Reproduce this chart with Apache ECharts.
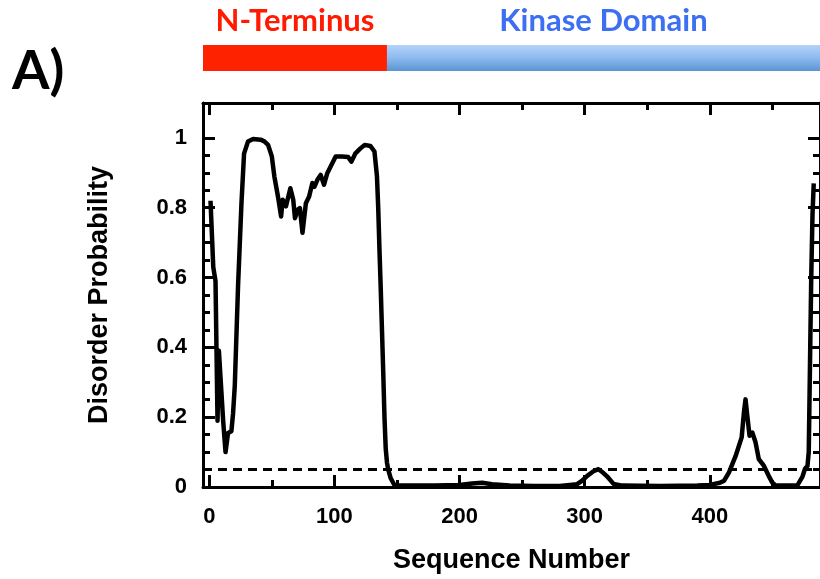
<!DOCTYPE html>
<html>
<head>
<meta charset="utf-8">
<script src="https://cdn.jsdelivr.net/npm/echarts@6/dist/echarts.min.js"></script>
<style>
    html, body { margin: 0; padding: 0; background: #fff; }
    #chart { width: 820px; height: 579px; }
</style>
</head>
<body>
<div id="chart"></div>
<script>
// sequence positions and disorder probability
var seqNum = [1, 3.2, 5, 6.6, 7.7, 8.7, 11.1, 13, 15, 17.7, 19, 20.4, 23, 25.7, 27.8, 31, 35, 41, 44, 47,
    50, 52, 55, 57.4, 58.7, 61.3, 64.8, 67.1, 68.5, 70.6, 72.4, 74.5, 77.2, 79.8, 82.4, 84, 86.4, 89, 91.7, 94.3,
    97, 101, 106, 111, 113.6, 116.8, 120.8, 124.2, 128.7, 132, 134, 135, 136, 137, 138, 139, 140, 141, 142, 143,
    145, 148, 160, 180, 200, 210, 218, 226, 240, 260, 280, 294, 298, 302, 307, 311, 315, 318, 323, 330,
    360, 390, 400, 408, 411.4, 415.3, 420.6, 425.4, 427.2, 428.5, 429.9, 431.7, 433.9, 436.5, 439.1, 443.1, 447, 450, 452.3, 460,
    470, 474, 476, 478, 479, 480, 481, 482, 483];
var disorder = [0.82, 0.63, 0.59, 0.19, 0.39, 0.39, 0.19, 0.10, 0.155, 0.16, 0.21, 0.29, 0.575, 0.81, 0.955, 0.99, 0.997, 0.995, 0.99, 0.98,
    0.947, 0.89, 0.83, 0.775, 0.823, 0.804, 0.856, 0.823, 0.77, 0.794, 0.799, 0.728, 0.813, 0.832, 0.871, 0.86, 0.88, 0.894, 0.866, 0.899,
    0.918, 0.947, 0.947, 0.945, 0.932, 0.956, 0.97, 0.98, 0.977, 0.961, 0.89, 0.80, 0.68, 0.57, 0.45, 0.33, 0.20, 0.11, 0.07, 0.05,
    0.025, 0.005, 0.004, 0.004, 0.006, 0.010, 0.012, 0.008, 0.004, 0.003, 0.003, 0.008, 0.018, 0.032, 0.045, 0.051, 0.04, 0.03, 0.009, 0.004,
    0.003, 0.004, 0.006, 0.012, 0.018, 0.042, 0.089, 0.142, 0.213, 0.251, 0.204, 0.147, 0.156, 0.128, 0.08, 0.061, 0.032, 0.012, 0.005, 0.004,
    0.005, 0.03, 0.052, 0.06, 0.1, 0.35, 0.6, 0.78, 0.87];
var threshold = 0.05;

// ticks
var xMajor = [0, 100, 200, 300, 400];
var xMinor = [50, 150, 250, 350, 450];
var yMajor = [0, 0.2, 0.4, 0.6, 0.8, 1];
var yMinor = [0.05, 0.1, 0.15, 0.25, 0.3, 0.35, 0.45, 0.5, 0.55, 0.65, 0.7, 0.75, 0.85, 0.9, 0.95];

// protein domains (bar above the plot)
var domainNames = ['N-Terminus', 'Kinase Domain'];
var domainStart = [-5, 142];
var domainEnd = [142, 488];
var domainTextColors = ['#ff1a00', '#3d6ff2'];

var xMin = -5, xMax = 488;
var labelFont = 'Liberation Sans, Arial, sans-serif';

var chart = echarts.init(document.getElementById('chart'));

var points = [];
for (var i = 0; i < seqNum.length; i++) {
    points.push([seqNum[i], disorder[i]]);
}

var domainFills = [
    '#ff2200',
    new echarts.graphic.LinearGradient(0, 0, 0, 1, [
        {offset: 0, color: '#b3d3fa'},
        {offset: 0.5, color: '#8dbaee'},
        {offset: 1, color: '#5a95d3'}
    ])
];
var domainAreas = [];
for (var d = 0; d < domainNames.length; d++) {
    domainAreas.push([{
        name: domainNames[d],
        xAxis: domainStart[d],
        itemStyle: {color: domainFills[d]},
        label: {color: domainTextColors[d]}
    }, {
        xAxis: domainEnd[d]
    }]);
}

// one axis per tick set, so major and minor ticks can have their own length
function tickAxis(pos, ticks, len, withLine) {
    var isX = pos === 'top' || pos === 'bottom';
    return {
        type: 'value',
        position: pos,
        gridIndex: 0,
        min: isX ? xMin : 0,
        max: isX ? xMax : 1.1,
        axisLine: {show: withLine, onZero: false, lineStyle: {color: '#000', width: 3}},
        axisTick: {show: true, inside: true, length: len, customValues: ticks, lineStyle: {color: '#000', width: 3}},
        axisLabel: {show: false},
        splitLine: {show: false}
    };
}

var xBottom = tickAxis('bottom', xMajor, 12, true);
xBottom.axisLabel = {
    show: true, customValues: xMajor, margin: 19,
    color: '#000', fontSize: 22, fontWeight: 'bold', fontFamily: labelFont
};
xBottom.name = 'Sequence Number';
xBottom.nameLocation = 'middle';
xBottom.nameGap = 60;
xBottom.nameTextStyle = {color: '#000', fontSize: 27, fontWeight: 'bold', fontFamily: labelFont};

var yLeft = tickAxis('left', yMajor, 12, true);
yLeft.axisLabel = {
    show: true, customValues: yMajor, margin: 16,
    color: '#000', fontSize: 22, fontWeight: 'bold', fontFamily: labelFont
};
yLeft.name = 'Disorder Probability';
yLeft.nameLocation = 'middle';
yLeft.nameGap = 90;
yLeft.nameTextStyle = {color: '#000', fontSize: 27, fontWeight: 'bold', fontFamily: labelFont};

var option = {
    animation: false,
    backgroundColor: '#fff',
    title: {
        text: 'A)',
        left: 7,
        top: 40,
        textStyle: {color: '#000', fontSize: 54, fontWeight: 'bold', fontFamily: 'Lato, sans-serif'}
    },
    grid: [
        {left: 203, top: 103, width: 622, height: 385},
        {left: 203, top: 45, width: 622, height: 26}
    ],
    xAxis: [
        xBottom,
        tickAxis('bottom', xMinor, 7, false),
        tickAxis('top', xMajor, 12, true),
        tickAxis('top', xMinor, 7, false),
        {type: 'value', gridIndex: 1, min: xMin, max: xMax, show: false}
    ],
    yAxis: [
        yLeft,
        tickAxis('left', yMinor, 7, false),
        tickAxis('right', yMajor, 12, true),
        tickAxis('right', yMinor, 7, false),
        {type: 'value', gridIndex: 1, min: 0, max: 1, show: false}
    ],
    series: [
        {
            type: 'line',
            xAxisIndex: 0,
            yAxisIndex: 0,
            data: points,
            showSymbol: false,
            lineStyle: {color: '#000', width: 4.5, join: 'round'},
            markLine: {
                silent: true,
                symbol: 'none',
                label: {show: false},
                lineStyle: {color: '#000', width: 3, type: [9, 6]},
                data: [{yAxis: threshold}]
            },
            z: 3
        },
        {
            type: 'line',
            xAxisIndex: 4,
            yAxisIndex: 4,
            data: [],
            markArea: {
                silent: true,
                label: {
                    show: true,
                    position: 'top',
                    distance: 9,
                    fontSize: 31,
                    fontWeight: 'bold',
                    fontFamily: 'Lato, sans-serif'
                },
                data: domainAreas
            }
        }
    ]
};
chart.setOption(option);
</script>
</body>
</html>
